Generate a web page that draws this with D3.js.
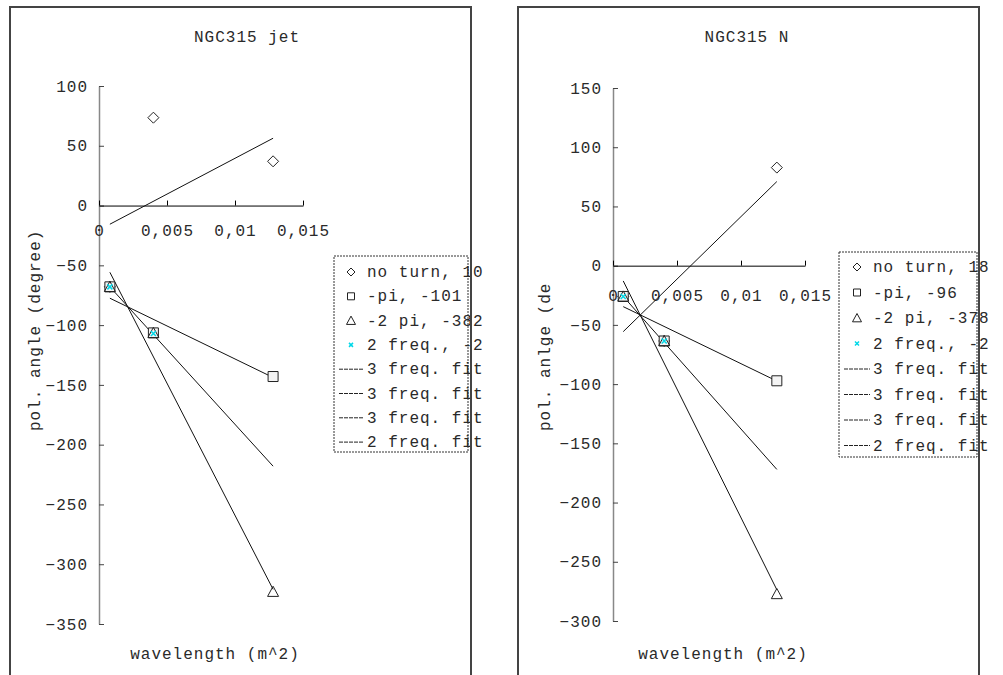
<!DOCTYPE html>
<html lang="en">
<head>
    <meta charset="UTF-8">
    <title>NGC315 polarization angle vs wavelength</title>
    <script src="https://d3js.org/d3.v7.min.js"></script>
    <style>
        body { margin: 0; background: #fff; }
        text {
            font-family: "Liberation Mono", "Courier New", monospace;
            font-size: 16px;
            letter-spacing: 1px;
            fill: #2a2a2a;
        }
    </style>
</head>
<body>
    <div class="chart"></div>

    <script>
        // wavelength squared (m^2) of the three bands
        const wavelength = [0.0008, 0.0040, 0.0128];
        const fitRange = [0.0008, 0.0128];
        const xTicks = [0, 0.005, 0.01, 0.015];
        const xTickLabels = ["0", "0,005", "0,01", "0,015"];

        // NGC315 jet
        const jetNoTurn = [-68, 73.5, 37];
        const jetMinusPi = [-68, -106.5, -143];
        const jetMinus2Pi = [-68, -106.5, -323];
        const jetTwoFreq = [-68, -107];
        const jetFitNoTurn = [-15.6, 56.3];
        const jetFitMinusPi = [-77.5, -143.8];
        const jetFitMinus2Pi = [-55.8, -321];
        const jetFitTwoFreq = [-68, -218];
        const jetYTicks = [100, 50, 0, -50, -100, -150, -200, -250, -300, -350];
        const jetLegend = ["no turn, 10", "-pi, -101", "-2 pi, -382", "2 freq., -2",
                           "3 freq. fit", "3 freq. fit", "3 freq. fit", "2 freq. fit"];

        // NGC315 N
        const nNoTurn = [-26, -63.6, 82.8];
        const nMinusPi = [-26, -63.6, -97.2];
        const nMinus2Pi = [-26, -63.6, -277.2];
        const nTwoFreq = [-26, -63.6];
        const nFitNoTurn = [-55.7, 71];
        const nFitMinusPi = [-34.6, -97.4];
        const nFitMinus2Pi = [-12.9, -273.6];
        const nFitTwoFreq = [-26, -172];
        const nYTicks = [150, 100, 50, 0, -50, -100, -150, -200, -250, -300];
        const nLegend = ["no turn, 18", "-pi, -96", "-2 pi, -378", "2 freq., -2",
                         "3 freq. fit", "3 freq. fit", "3 freq. fit", "2 freq. fit"];

        const svg = d3.select('.chart')
            .append('svg')
            .attr('width', 1003)
            .attr('height', 675);

        function diamond(cx, cy, r) {
            return `M${cx},${cy - r}L${cx + r},${cy}L${cx},${cy + r}L${cx - r},${cy}Z`;
        }
        function square(cx, cy, r) {
            return `M${cx - r},${cy - r}H${cx + r}V${cy + r}H${cx - r}Z`;
        }
        function triangle(cx, cy, r) {
            return `M${cx},${cy - r}L${cx + r},${cy + r * 0.85}L${cx - r},${cy + r * 0.85}Z`;
        }
        function cross(cx, cy, r) {
            return `M${cx - r},${cy - r}L${cx + r},${cy + r}M${cx + r},${cy - r}L${cx - r},${cy + r}`;
        }

        function drawPanel(p) {
            const clipId = 'clip' + p.id;
            svg.append('clipPath').attr('id', clipId)
                .append('rect')
                .attr('x', p.clip[0]).attr('y', 0)
                .attr('width', p.clip[1] - p.clip[0]).attr('height', 675);

            const g = svg.append('g').attr('clip-path', `url(#${clipId})`);

            const x = d3.scaleLinear().domain([0, 0.015]).range(p.xRange);
            const y = d3.scaleLinear().domain(d3.extent(p.yTicks)).range(p.yRange);

            // title and axis labels
            g.append('text')
                .attr('x', p.titleX).attr('y', 42)
                .attr('text-anchor', 'middle')
                .text(p.title);

            g.append('text')
                .attr('x', p.xLabelX).attr('y', 659)
                .attr('text-anchor', 'middle')
                .text('wavelength (m^2)');

            g.append('text')
                .attr('transform', `translate(${p.yLabelX},431) rotate(-90)`)
                .text(p.yLabel);

            // y axis (ticks point inward)
            const yAxis = g.append('g')
                .attr('transform', `translate(${x(0)},0)`)
                .call(d3.axisLeft(y).tickValues(p.yTicks)
                    .tickSizeInner(-5).tickSizeOuter(0).tickPadding(11)
                    .tickFormat(d3.format('d')));
            yAxis.select('.domain').attr('stroke', '#888').attr('stroke-width', 1.5);
            yAxis.selectAll('.tick line').attr('stroke', '#444');

            // x axis at zero
            const xAxis = g.append('g')
                .attr('transform', `translate(0,${y(0)})`)
                .call(d3.axisBottom(x).tickValues(xTicks)
                    .tickSizeInner(-5).tickSizeOuter(0).tickPadding(p.xPad)
                    .tickFormat((d, i) => xTickLabels[i]));
            xAxis.select('.domain').attr('stroke', '#000');
            yAxis.attr('font-family', null).attr('font-size', null);
            xAxis.attr('font-family', null).attr('font-size', null);

            // fit lines
            p.fits.forEach(f => {
                g.append('line')
                    .attr('x1', x(fitRange[0])).attr('y1', y(f[0]))
                    .attr('x2', x(fitRange[1])).attr('y2', y(f[1]))
                    .attr('stroke', '#111').attr('stroke-width', 1);
            });

            // markers
            const pts = arr => arr.map((v, i) => [x(wavelength[i]), y(v)]);
            pts(p.noTurn).forEach(([cx, cy]) => g.append('path')
                .attr('d', diamond(cx, cy, 5.5)).attr('fill', 'none').attr('stroke', '#222'));
            pts(p.minusPi).forEach(([cx, cy]) => g.append('path')
                .attr('d', square(cx, cy, 5)).attr('fill', '#f4f4f4').attr('stroke', '#222'));
            pts(p.minus2Pi).forEach(([cx, cy]) => g.append('path')
                .attr('d', triangle(cx, cy, 5.5)).attr('fill', 'none').attr('stroke', '#222'));
            pts(p.twoFreq).forEach(([cx, cy]) => g.append('path')
                .attr('d', cross(cx, cy, 2.5)).attr('fill', 'none').attr('stroke', '#00d8e8').attr('stroke-width', 1.5));

            // legend
            const lg = p.legend;
            g.append('rect')
                .attr('x', lg.x).attr('y', lg.y)
                .attr('width', lg.w).attr('height', lg.h)
                .attr('fill', 'white')
                .attr('stroke', '#333').attr('stroke-dasharray', '2,1');

            p.legendLabels.forEach((label, i) => {
                const cy = lg.y + lg.first + i * lg.step;
                const sx = lg.symX;
                if (i === 0) g.append('path').attr('d', diamond(sx, cy, 4)).attr('fill', 'none').attr('stroke', '#222');
                if (i === 1) g.append('path').attr('d', square(sx, cy, 3.5)).attr('fill', 'none').attr('stroke', '#222');
                if (i === 2) g.append('path').attr('d', triangle(sx, cy, 4.5)).attr('fill', 'none').attr('stroke', '#222');
                if (i === 3) g.append('path').attr('d', cross(sx, cy, 2)).attr('fill', 'none').attr('stroke', '#00d8e8').attr('stroke-width', 1.5);
                if (i > 3) g.append('line')
                    .attr('x1', lg.x + 5).attr('x2', lg.textX - 3)
                    .attr('y1', cy).attr('y2', cy)
                    .attr('stroke', '#222').attr('stroke-dasharray', '4,1');
                g.append('text')
                    .attr('x', lg.textX).attr('y', cy + 5)
                    .text(label);
            });

            // panel frame (drawn over the legend text)
            g.append('rect')
                .attr('x', p.frame[0]).attr('y', 7)
                .attr('width', p.frame[1] - p.frame[0]).attr('height', 700)
                .attr('fill', 'none')
                .attr('stroke', '#444').attr('stroke-width', 2);
        }

        drawPanel({
            id: 'jet', title: 'NGC315 jet', yLabel: 'pol. angle (degree)',
            clip: [0, 486], frame: [10, 471],
            xRange: [99, 303], yRange: [624, 86], yTicks: jetYTicks, xPad: 19,
            titleX: 247, xLabelX: 215, yLabelX: 40,
            noTurn: jetNoTurn, minusPi: jetMinusPi, minus2Pi: jetMinus2Pi, twoFreq: jetTwoFreq,
            fits: [jetFitNoTurn, jetFitMinusPi, jetFitMinus2Pi, jetFitTwoFreq],
            legendLabels: jetLegend,
            legend: { x: 334, y: 256, w: 134, h: 196, first: 16, step: 24.3, symX: 351, textX: 367 }
        });

        drawPanel({
            id: 'n', title: 'NGC315 N', yLabel: 'pol. anlge (de',
            clip: [490, 1003], frame: [518, 979],
            xRange: [613, 805], yRange: [621, 88], yTicks: nYTicks, xPad: 24,
            titleX: 747, xLabelX: 723, yLabelX: 550,
            noTurn: nNoTurn, minusPi: nMinusPi, minus2Pi: nMinus2Pi, twoFreq: nTwoFreq,
            fits: [nFitNoTurn, nFitMinusPi, nFitMinus2Pi, nFitTwoFreq],
            legendLabels: nLegend,
            legend: { x: 839, y: 252, w: 138, h: 205, first: 15, step: 25.5, symX: 857, textX: 873 }
        });
    </script>
</body>
</html>
